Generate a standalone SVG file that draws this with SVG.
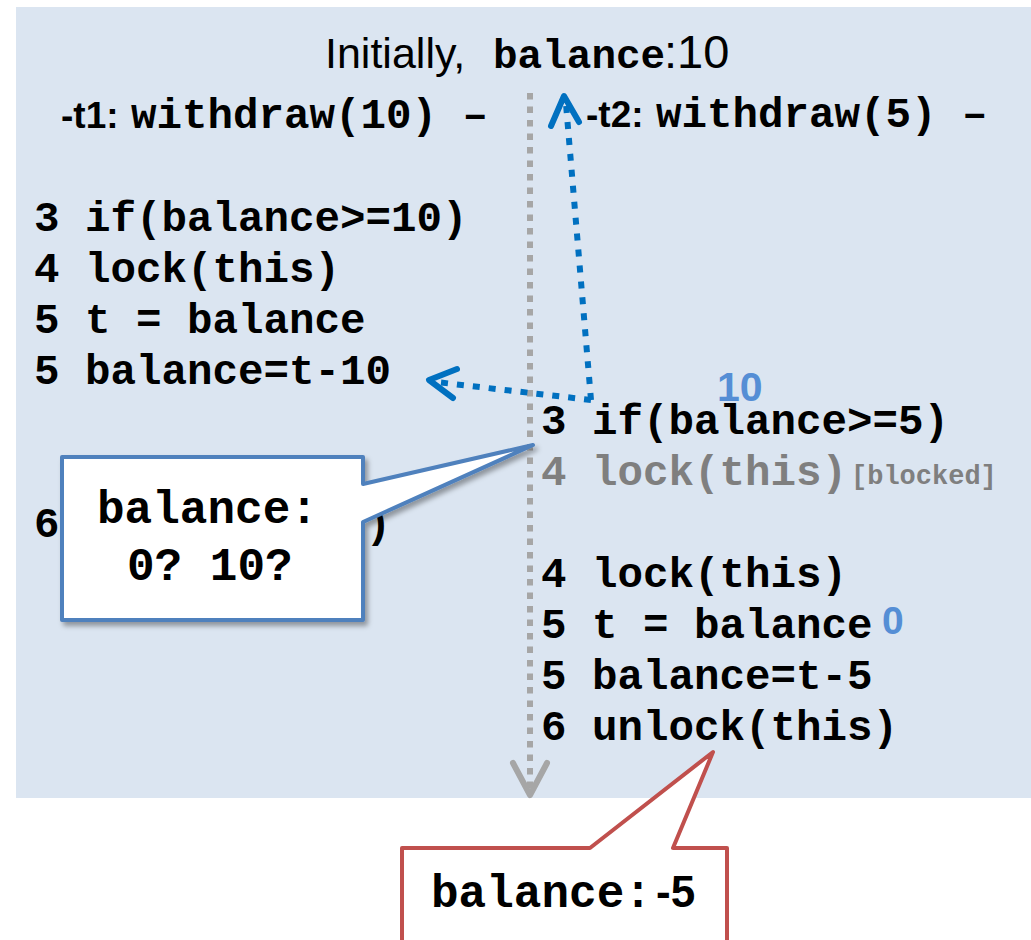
<svg xmlns="http://www.w3.org/2000/svg" width="1031" height="940" viewBox="0 0 1031 940">
  <style>
    .mono { font-family: "Liberation Mono", "Courier New", monospace; font-weight: bold; }
    .sans { font-family: "Liberation Sans", Arial, sans-serif; }
    .code { font-size: 42.5px; fill: #000; }
    .dim { fill: #7F7F7F; }
    .val { font-weight: bold; fill: #558ED5; }
    .timeline { fill: none; stroke: #A6A6A6; stroke-width: 6; }
    .flow { fill: none; stroke: #0070C0; stroke-width: 6; }
    .head { fill: none; stroke-linecap: round; stroke-linejoin: round; }
  </style>
  <defs>
    <filter id="shadow" x="-10%" y="-10%" width="130%" height="130%">
      <feDropShadow dx="3" dy="4" stdDeviation="2.5" flood-color="#000" flood-opacity="0.35"/>
    </filter>
  </defs>

  <!-- panel -->
  <rect x="16" y="7" width="1015" height="791" fill="#DBE5F1"/>

  <!-- heading -->
  <g id="title">
    <text class="sans" x="325" y="68" font-size="43">Initially,</text>
    <text class="mono" x="493" y="68" font-size="41">balance</text>
    <text class="sans" x="664" y="68" font-size="47">:10</text>
  </g>

  <!-- thread 1 -->
  <g id="t1">
    <text class="sans" x="61" y="128" font-size="37" font-weight="bold">-t1:</text>
    <text class="mono code" x="131" y="128">withdraw(10) –</text>
    <text class="mono code" x="34" y="231">3 if(balance&gt;=10)</text>
    <text class="mono code" x="34" y="282">4 lock(this)</text>
    <text class="mono code" x="34" y="333">5 t = balance</text>
    <text class="mono code" x="34" y="384">5 balance=t-10</text>
    <text class="mono code" x="34" y="537">6 unlock(this)</text>
  </g>

  <!-- thread 2 -->
  <g id="t2">
    <text class="sans" x="586" y="127" font-size="37" font-weight="bold">-t2:</text>
    <text class="mono code" x="656" y="127">withdraw(5) –</text>
    <text class="mono code" x="541" y="434">3 if(balance&gt;=5)</text>
    <text class="mono code dim" x="541" y="485">4 lock(this)</text>
    <text class="mono dim" x="851" y="484" font-size="27">[blocked]</text>
    <text class="mono code" x="541" y="587">4 lock(this)</text>
    <text class="mono code" x="541" y="638">5 t = balance</text>
    <text class="mono code" x="541" y="689">5 balance=t-5</text>
    <text class="mono code" x="541" y="740">6 unlock(this)</text>
  </g>

  <!-- values read -->
  <g id="values">
    <text class="sans val" x="717" y="401" font-size="41">10</text>
    <text class="sans val" x="882" y="634" font-size="39">0</text>
  </g>

  <!-- connectors -->
  <g id="connectors">
    <line class="timeline" x1="530" y1="93" x2="530" y2="790" stroke-dasharray="6.5 7"/>
    <polyline class="timeline head" points="513,763 530,795 547,763"/>

    <path class="flow" d="M591,400 L566,104" stroke-dasharray="7 9"/>
    <polyline class="flow head" points="551,126 564,96 579,122"/>
    <path class="flow" d="M591,400 L436,382" stroke-dasharray="7 9"/>
    <polyline class="flow head" points="457,369 429,380 453,398"/>
  </g>

  <!-- callout: value seen by t1 -->
  <g id="callout-t1">
    <path d="M62,457 H363 V484 L533,445 L363,522 V620 H62 Z" fill="#FFFFFF" stroke="#4F81BD" stroke-width="4" stroke-linejoin="round" filter="url(#shadow)"/>
    <text class="mono" x="97" y="523" font-size="46">balance:</text>
    <text class="mono" x="127" y="580" font-size="46">0? 10?</text>
  </g>

  <!-- callout: final value -->
  <g id="callout-final">
    <path d="M402,848 H590 L713,752 L673,848 H727 V946 H402 Z" fill="#FFFFFF" stroke="#C0504D" stroke-width="4" stroke-linejoin="round"/>
    <text class="mono" x="431" y="907" font-size="46">balance:</text>
    <text class="sans" x="656" y="907" font-size="44" font-weight="bold">-5</text>
  </g>
</svg>
